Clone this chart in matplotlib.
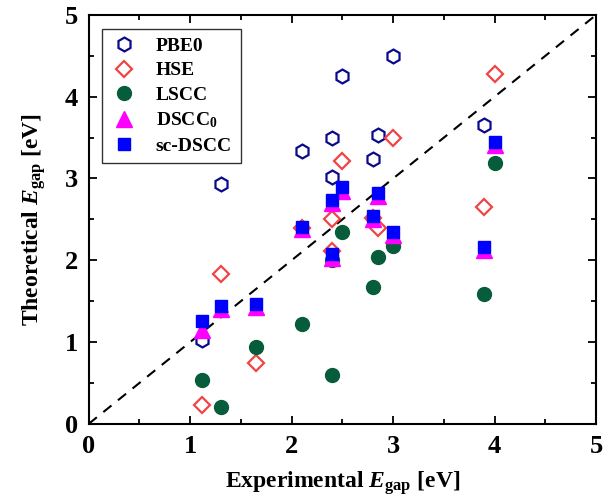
import matplotlib
matplotlib.use('Agg')
import matplotlib.pyplot as plt
from matplotlib.ticker import MultipleLocator

plt.rcParams['font.family'] = 'Liberation Serif'
plt.rcParams['font.weight'] = 'bold'
plt.rcParams['axes.labelweight'] = 'bold'
plt.rcParams['mathtext.fontset'] = 'custom'
plt.rcParams['mathtext.rm'] = 'Liberation Serif:bold'
plt.rcParams['mathtext.it'] = 'Liberation Serif:italic:bold'
plt.rcParams['mathtext.bf'] = 'Liberation Serif:bold'

# 实验带隙 vs 理论带隙
pbe0_x = [1.12, 1.3, 2.1, 2.4, 2.4, 2.5, 2.8, 2.85, 3.0, 3.9]
pbe0_y = [1.02, 2.93, 3.34, 3.02, 3.50, 4.25, 3.24, 3.53, 4.50, 3.65]

hse_x = [1.12, 1.3, 1.65, 2.1, 2.4, 2.4, 2.5, 2.8, 2.85, 3.0, 3.9, 4.0]
hse_y = [0.23, 1.83, 0.74, 2.40, 2.50, 2.11, 3.21, 2.52, 2.39, 3.50, 2.65, 4.28]

lscc_x = [1.12, 1.3, 1.65, 2.1, 2.4, 2.4, 2.5, 2.8, 2.85, 3.0, 3.9, 4.0]
lscc_y = [0.53, 0.20, 0.94, 1.22, 0.60, 2.00, 2.34, 1.67, 2.04, 2.18, 1.59, 3.19]

dscc_x = [1.12, 1.3, 1.65, 2.1, 2.4, 2.4, 2.5, 2.8, 2.85, 3.0, 3.9, 4.0]
dscc0_y = [1.15, 1.41, 1.43, 2.38, 2.03, 2.70, 2.85, 2.50, 2.78, 2.31, 2.12, 3.41]
scdscc_y = [1.26, 1.44, 1.47, 2.41, 2.08, 2.74, 2.89, 2.54, 2.82, 2.34, 2.16, 3.45]

fig = plt.figure(figsize=(6.12, 4.98), dpi=100)
ax = fig.add_axes([0.145, 0.149, 0.829, 0.821])

ax.plot([0, 5], [0, 5], 'k--', lw=1.5, dashes=(5, 4), zorder=1)

ax.plot(pbe0_x, pbe0_y, 'h', ms=10, mfc='none', mec='#0a0a8c', mew=1.6,
        ls='none', label='PBE0', zorder=2)
ax.plot(hse_x, hse_y, 'D', ms=8, mfc='none', mec='#f04545', mew=1.6,
        ls='none', label='HSE', zorder=3)
ax.plot(lscc_x, lscc_y, 'o', ms=10, color='#075c3c', ls='none',
        label='LSCC', zorder=4)
ax.plot(dscc_x, dscc0_y, '^', ms=11, color='#ff00ff', ls='none',
        label='DSCC$_0$', zorder=5)
ax.plot(dscc_x, scdscc_y, 's', ms=9, color='#0000ff', ls='none',
        label='sc-DSCC', zorder=6)

ax.set_xlim(0, 5)
ax.set_ylim(0, 5)
ax.xaxis.set_major_locator(MultipleLocator(1))
ax.xaxis.set_minor_locator(MultipleLocator(0.5))
ax.yaxis.set_major_locator(MultipleLocator(1))
ax.yaxis.set_minor_locator(MultipleLocator(0.5))
ax.tick_params(which='both', direction='in', top=True, right=True, width=1.3)
ax.tick_params(which='major', length=6, labelsize=19, pad=8)
ax.tick_params(which='minor', length=3.5)
for s in ax.spines.values():
    s.set_linewidth(1.5)

ax.set_xlabel('Experimental $E_{\\mathrm{gap}}$ [eV]', fontsize=17,
              fontweight='bold', labelpad=8)
ax.set_ylabel('Theoretical $E_{\\mathrm{gap}}$ [eV]', fontsize=17,
              fontweight='bold', labelpad=12)

leg = ax.legend(loc='upper left', fontsize=14, frameon=True, fancybox=False,
                edgecolor='black', borderaxespad=0.7, handlelength=1.3,
                handletextpad=1.0, labelspacing=0.35, borderpad=0.45)
leg.get_frame().set_linewidth(1.0)

fig.savefig('out.png', dpi=100)
